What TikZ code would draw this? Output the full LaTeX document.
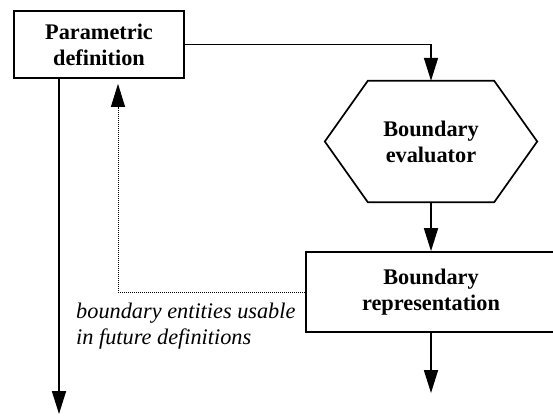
\documentclass[tikz,border=0pt]{standalone}
\usepackage{fontspec}
\setmainfont{Liberation Serif}
\usetikzlibrary{arrows.meta}
\begin{document}
\begin{tikzpicture}[x=1pt,y=-1pt,
  every node/.style={font=\fontsize{22.3}{26}\selectfont},
  box/.style={draw,line width=1.7pt,align=center,inner sep=0pt,font=\fontsize{22.3}{26}\selectfont\bfseries},
  hexnode/.style={align=center,inner sep=0pt,font=\fontsize{22.3}{26}\selectfont\bfseries},
  tip/.style={-{Triangle[length={23pt 0 0},width={14pt 0 0}]}},
  flow/.style={line width=1.7pt,tip},
  feedback/.style={line width=1pt,dash pattern=on 1pt off 1pt,tip}]
\useasboundingbox (0,0) rectangle (553,415);
\node[box,minimum width=170pt,minimum height=67pt] (param) at (99,44.5) {Parametric\\definition};
\node[hexnode,minimum width=212pt,minimum height=121pt] (hex) at (431,141.5) {Boundary\\evaluator};
\draw[line width=1.7pt,line join=miter] (hex.west) -- ([xshift=43pt]hex.north west) -- ([xshift=-43pt]hex.north east) -- (hex.east) -- ([xshift=-43pt]hex.south east) -- ([xshift=43pt]hex.south west) -- cycle;
\node[box,minimum width=250pt,minimum height=80pt] (rep) at (431,292) {Boundary\\representation};
\node[anchor=west,align=left,inner sep=0pt,font=\fontsize{22.3}{25.5}\selectfont\itshape] (label) at (76,326) {boundary entities usable\\in future definitions};
\coordinate (leftend) at (59,414);
\coordinate (repend) at (431,393);
\coordinate (fbcorner) at (118,292);
\draw[flow] (param.east) -| (hex.north);
\draw[flow] (hex.south) -- (rep.north);
\draw[flow] (rep.south) -- (repend);
\draw[flow] (param.south -| leftend) -- (leftend);
\draw[feedback,shorten >=5pt] (rep.west) -- (fbcorner) -- (fbcorner |- param.south);
\end{tikzpicture}
\end{document}
